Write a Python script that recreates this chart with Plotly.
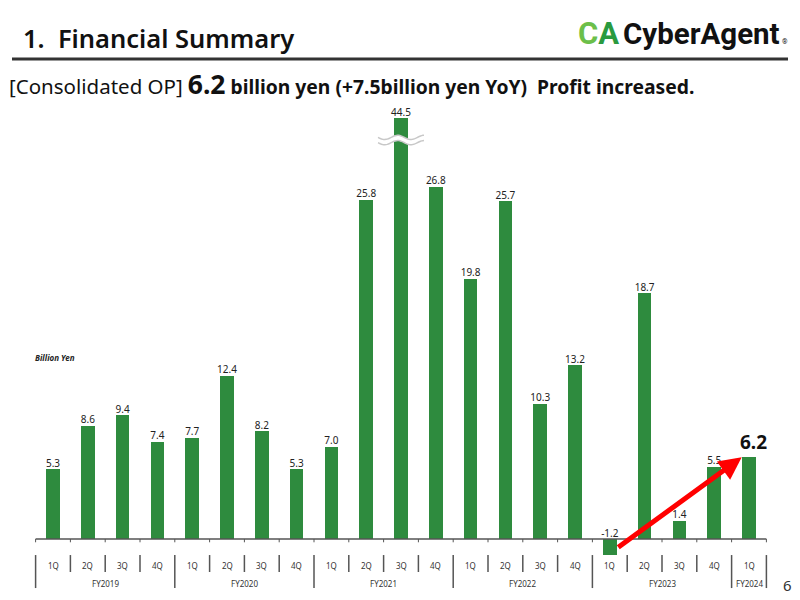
import math
import plotly.graph_objects as go

# ---------------- data ----------------
quarters = ["1Q", "2Q", "3Q", "4Q",
            "1Q", "2Q", "3Q", "4Q",
            "1Q", "2Q", "3Q", "4Q",
            "1Q", "2Q", "3Q", "4Q",
            "1Q", "2Q", "3Q", "4Q",
            "1Q"]
fiscal_years = (["FY2019"] * 4 + ["FY2020"] * 4 + ["FY2021"] * 4 +
                ["FY2022"] * 4 + ["FY2023"] * 4 + ["FY2024"])
op_values = [5.3, 8.6, 9.4, 7.4,
             7.7, 12.4, 8.2, 5.3,
             7.0, 25.8, 44.5, 26.8,
             19.8, 25.7, 10.3, 13.2,
             -1.2, 18.7, 1.4, 5.5,
             6.2]
BREAK_CAP = 32.0  # bars above this are drawn broken

n = len(op_values)
x = list(range(n))
display = [min(v, BREAK_CAP) for v in op_values]

FONT = "Noto Sans"
GREEN = "#2e8b3e"

fig = go.Figure()
fig.add_trace(go.Bar(x=x, y=display, width=0.39, marker_color=GREEN,
                     marker_line_width=0, hoverinfo="skip"))

label_y = [max(d, 0) for d in display]
labels = [f"{v:.1f}" for v in op_values]
# all but the latest quarter as plain labels
fig.add_trace(go.Scatter(x=x[:-1], y=label_y[:-1], mode="text", text=labels[:-1],
                         textposition="top center",
                         textfont=dict(size=10, color="#222", family=FONT),
                         hoverinfo="skip"))

shapes = []
# baseline axis
shapes.append(dict(type="line", xref="x", yref="y", x0=-0.5, x1=n - 0.5, y0=0, y1=0,
                   line=dict(color="#555", width=1.5)))
# ticks and category separators
for i in range(n + 1):
    b = i - 0.5
    shapes.append(dict(type="line", xref="x", yref="y", x0=b, x1=b, y0=0, y1=-0.25,
                       line=dict(color="#555", width=1)))
    if i == 0 or i == n or fiscal_years[i - 1] != fiscal_years[i]:
        y_end = -3.73
    else:
        y_end = -2.51
    shapes.append(dict(type="line", xref="x", yref="y", x0=b, x1=b, y0=-1.22, y1=y_end,
                       line=dict(color="#555", width=1.5)))

# break mark on the capped bar
for idx, v in enumerate(op_values):
    if v > BREAK_CAP:
        cy = 30.34
        half_w = 0.66
        amp = 0.16
        gap = 0.2
        pts = 40
        up, lo = [], []
        for k in range(pts + 1):
            t = k / pts
            xx = idx - half_w + 2 * half_w * t
            w = amp * math.sin(2 * math.pi * 1.75 * t + math.pi)
            up.append((xx, cy + gap + w))
            lo.append((xx, cy - gap + w))
        fill_path = "M " + " L ".join(f"{a},{b}" for a, b in up + lo[::-1]) + " Z"
        shapes.append(dict(type="path", xref="x", yref="y", path=fill_path,
                           fillcolor="white", line=dict(width=0)))
        for line_pts in (up, lo):
            p = "M " + " L ".join(f"{a},{b}" for a, b in line_pts)
            shapes.append(dict(type="path", xref="x", yref="y", path=p,
                               line=dict(color="#c8c8c8", width=1.5)))

# header underline
shapes.append(dict(type="line", xref="paper", yref="paper", x0=12 / 800, x1=788 / 800,
                   y0=1 - 59 / 600, y1=1 - 59 / 600, line=dict(color="#333", width=3)))

annotations = []
for i, q in enumerate(quarters):
    annotations.append(dict(x=i, y=-2.05, xref="x", yref="y", text=q, showarrow=False,
                            font=dict(size=8, color="#333", family=FONT)))
seen = []
for fy in fiscal_years:
    if fy not in seen:
        seen.append(fy)
for fy in seen:
    idxs = [i for i, f in enumerate(fiscal_years) if f == fy]
    cx = sum(idxs) / len(idxs)
    annotations.append(dict(x=cx, y=-3.35, xref="x", yref="y", text=fy, showarrow=False,
                            font=dict(size=8, color="#333", family=FONT)))

# latest quarter highlighted label
annotations.append(dict(x=x[-1], y=label_y[-1], xref="x", yref="y", text=f"<b>{labels[-1]}</b>",
                        showarrow=False, yanchor="bottom", xshift=4, yshift=0,
                        font=dict(size=19, color="#111", family=FONT)))

# arrow
annotations.append(dict(x=19.79, y=6.21, ax=16.2, ay=-0.71, xref="x", yref="y",
                        axref="x", ayref="y", text="", showarrow=True, arrowhead=2,
                        arrowsize=0.9, arrowwidth=5, arrowcolor="#ff0000", standoff=0))


def px(v):
    return v / 800


def py(v):
    return 1 - v / 600


annotations += [
    dict(x=px(21), y=py(38), xref="paper", yref="paper", xanchor="left", yanchor="middle",
         text="1.\u00a0\u00a0Financial Summary", showarrow=False,
         font=dict(size=25.5, color="#111", family=FONT, weight=600)),
    dict(x=px(7), y=py(84), xref="paper", yref="paper", xanchor="left", yanchor="middle",
         text=("<span style=\"font-size:20.5px\">[Consolidated OP]</span> "
               "<b><span style=\"font-size:26.5px\">6.2</span> billion yen "
               "(+7.5billion yen YoY)\u00a0\u00a0Profit increased.</b>"),
         showarrow=False, font=dict(size=19.3, color="#111", family=FONT)),
    dict(x=px(576), y=py(33), xref="paper", yref="paper", xanchor="left", yanchor="middle",
         text=("<b><span style=\"color:#6cbf4a\">C</span>"
               "<span style=\"color:#2a9a3f\">A</span></b>"),
         showarrow=False, font=dict(size=31, family="Roboto", weight=900)),
    dict(x=px(621), y=py(34), xref="paper", yref="paper", xanchor="left", yanchor="middle",
         text="<b>CyberAgent</b>", showarrow=False,
         font=dict(size=29.5, color="#111", family="Roboto")),
    dict(x=px(785), y=py(42), xref="paper", yref="paper", xanchor="center", yanchor="middle",
         text="®", showarrow=False, font=dict(size=7, color="#111", family="Roboto")),
    dict(x=px(787), y=py(585), xref="paper", yref="paper", xanchor="center", yanchor="middle",
         text="6", showarrow=False, font=dict(size=15, color="#333", family=FONT)),
    dict(x=px(33), y=py(357), xref="paper", yref="paper", xanchor="left", yanchor="middle",
         text="<b><i>Billion Yen</i></b>", showarrow=False,
         font=dict(size=8, color="#222", family=FONT)),
]

fig.update_layout(
    width=800, height=600,
    margin=dict(l=0, r=0, t=0, b=0),
    paper_bgcolor="white", plot_bgcolor="white",
    showlegend=False,
    xaxis=dict(visible=False, range=[-53 / 34.8, 747 / 34.8], fixedrange=True),
    yaxis=dict(visible=False, range=[-61 / 13.15, 539 / 13.15], fixedrange=True),
    shapes=shapes,
    annotations=annotations,
    bargap=0,
)

fig.write_html("out.html")
